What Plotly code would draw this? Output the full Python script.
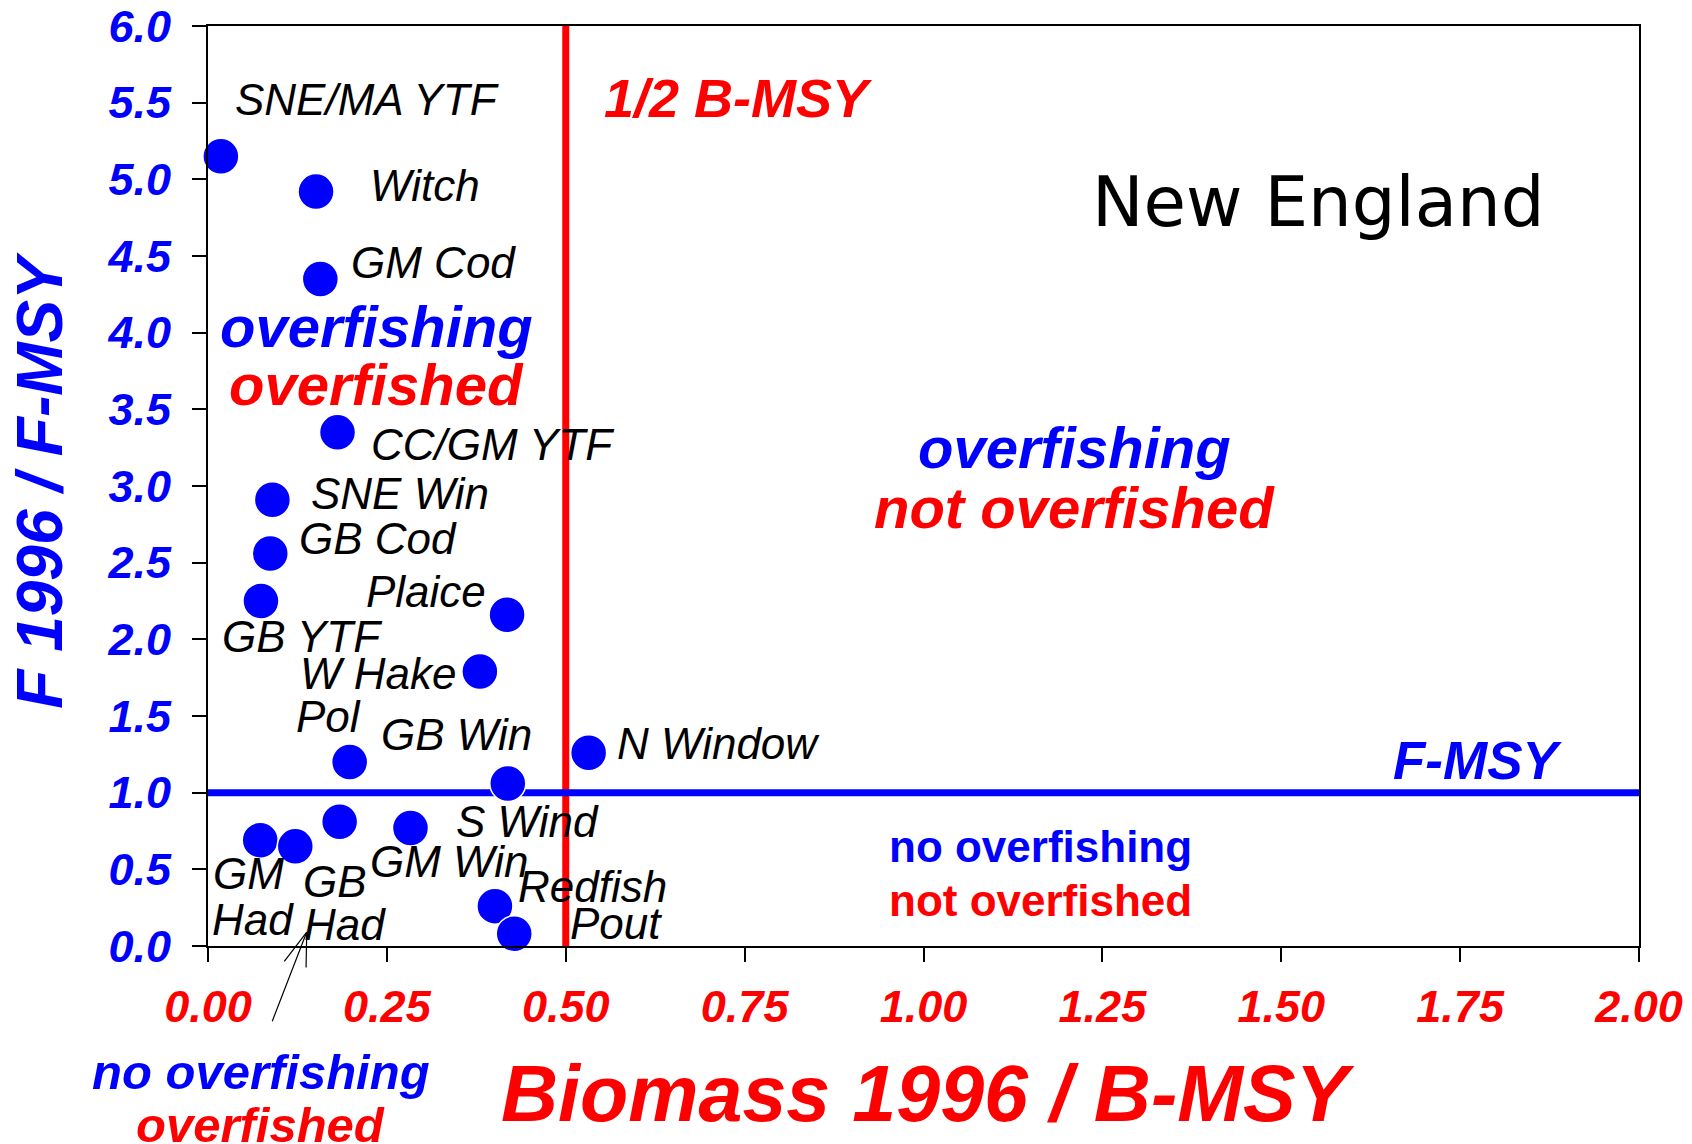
import plotly.graph_objects as go

# ---------------- data ----------------
stocks = ["SNE/MA YTF", "Witch", "GM Cod", "CC/GM YTF", "SNE Win", "GB Cod", "GB YTF",
          "Plaice", "W Hake", "Pol", "GB Win", "N Window", "GM Had", "GB Had",
          "GM Win", "S Wind", "Redfish", "Pout"]
biomass = [0.018, 0.151, 0.157, 0.181, 0.090, 0.087, 0.074,
           0.418, 0.380, 0.198, 0.419, 0.532, 0.073, 0.122,
           0.184, 0.283, 0.401, 0.428]
fmort = [5.15, 4.92, 4.35, 3.35, 2.91, 2.56, 2.25,
         2.16, 1.79, 1.20, 1.06, 1.26, 0.69, 0.65,
         0.81, 0.77, 0.26, 0.08]

x_ticks = [0.0, 0.25, 0.5, 0.75, 1.0, 1.25, 1.5, 1.75, 2.0]
y_ticks = [0.0, 0.5, 1.0, 1.5, 2.0, 2.5, 3.0, 3.5, 4.0, 4.5, 5.0, 5.5, 6.0]
b_msy_half = 0.5
f_msy = 1.0

# label placement (text centres, data units) - layout only
label_pos = {
    "SNE/MA YTF": (0.222, 5.52),
    "Witch": (0.303, 4.96),
    "GM Cod": (0.315, 4.46),
    "CC/GM YTF": (0.398, 3.27),
    "SNE Win": (0.268, 2.95),
    "GB Cod": (0.238, 2.66),
    "GB YTF": (0.131, 2.02),
    "Plaice": (0.305, 2.31),
    "W Hake": (0.238, 1.78),
    "Pol": (0.169, 1.50),
    "GB Win": (0.348, 1.38),
    "N Window": (0.713, 1.32),
    "S Wind": (0.446, 0.81),
    "GM Win": (0.337, 0.55),
    "Redfish": (0.538, 0.39),
    "Pout": (0.570, 0.15),
}
split_labels = {
    "GM Had": [("GM", 0.056, 0.475), ("Had", 0.063, 0.17)],
    "GB Had": [("GB", 0.178, 0.42), ("Had", 0.191, 0.137)],
}

FONT = "Liberation Sans, Arial, sans-serif"
WIDE = "DejaVu Sans, sans-serif"
BLUE = "#0000FF"
RED = "#FF0000"

XR = (x_ticks[0], x_ticks[-1])
YR = (y_ticks[0], y_ticks[-1])

fig = go.Figure()

# reference lines
fig.add_trace(go.Scatter(x=[b_msy_half, b_msy_half], y=[YR[0], YR[1]], mode="lines",
                         line=dict(color=RED, width=7), hoverinfo="skip", cliponaxis=False))
fig.add_trace(go.Scatter(x=[XR[0], XR[1]], y=[f_msy, f_msy], mode="lines",
                         line=dict(color=BLUE, width=7), hoverinfo="skip", cliponaxis=False))

# stocks
fig.add_trace(go.Scatter(x=biomass, y=fmort, mode="markers", text=stocks,
                         marker=dict(color=BLUE, size=36, line=dict(color="white", width=1.5)),
                         cliponaxis=False))

ann = []
def txt(s, x, y, size, color="black", bold=False, italic=True, family=FONT, angle=0):
    # x, y in data units; placed via paper fractions so text outside the axes still shows
    ann.append(dict(text=s, x=(x - XR[0]) / (XR[1] - XR[0]), y=(y - YR[0]) / (YR[1] - YR[0]),
                    xref="paper", yref="paper", showarrow=False, textangle=angle,
                    xanchor="center", yanchor="middle",
                    font=dict(family=family, size=size, color=color,
                              weight="bold" if bold else "normal",
                              style="italic" if italic else "normal")))

for name, (lx, ly) in label_pos.items():
    txt(name, lx, ly, 44)
for name, parts in split_labels.items():
    for s, lx, ly in parts:
        txt(s, lx, ly, 44)

# region texts
txt("overfishing", 0.235, 4.04, 58, BLUE, bold=True)
txt("overfished", 0.235, 3.66, 58, RED, bold=True)
txt("overfishing", 1.211, 3.25, 58, BLUE, bold=True)
txt("not overfished", 1.211, 2.86, 58, RED, bold=True)
txt("no overfishing", 1.164, 0.65, 44, BLUE, bold=True, italic=False)
txt("not overfished", 1.164, 0.30, 44, RED, bold=True, italic=False)
txt("no overfishing", 0.074, -0.82, 49, BLUE, bold=True)
txt("overfished", 0.074, -1.17, 49, RED, bold=True)
txt("F-MSY", 1.775, 1.21, 53, BLUE, bold=True)
txt("1/2 B-MSY", 0.741, 5.53, 54, RED, bold=True)
txt("New England", 1.552, 4.85, 69, "black", italic=False, family=WIDE)

# axis titles
txt("Biomass 1996 / B-MSY", 1.006, -0.96, 79, RED, bold=True)
txt("F 1996 / F-MSY", -0.235, 3.04, 64, BLUE, bold=True, angle=-90)

# leader arrow to GM/GB Had
tip = (0.138, 0.091)
for tail in [(0.089, -0.50), (0.105, -0.11), (0.137, -0.15)]:
    ann.append(dict(text="", x=tip[0], y=tip[1], xref="x", yref="y",
                    ax=tail[0], ay=tail[1], axref="x", ayref="y",
                    showarrow=True, arrowhead=0, arrowwidth=1.2, arrowcolor="black",
                    standoff=0, startstandoff=0))

# page body has an 8px margin, so the figure is 8px smaller to fit the window
fig.update_layout(
    width=1684, height=1136,
    margin=dict(l=200, r=53, t=18, b=198, autoexpand=False),
    plot_bgcolor="white", paper_bgcolor="white",
    showlegend=False,
    annotations=ann,
    xaxis=dict(range=list(XR), tickvals=x_ticks, tickformat=".2f", automargin=False,
               showline=True, linecolor="black", linewidth=2, mirror=True,
               ticks="outside", ticklen=14, tickwidth=2, tickcolor="black",
               showgrid=False, zeroline=False, ticklabelstandoff=6,
               ticklabeloverflow="allow",
               tickfont=dict(family=FONT, size=45, color=RED, weight="bold", style="italic")),
    yaxis=dict(range=list(YR), tickvals=y_ticks, tickformat=".1f", automargin=False,
               showline=True, linecolor="black", linewidth=2, mirror=True,
               ticks="outside", ticklen=14, tickwidth=2, tickcolor="black",
               showgrid=False, zeroline=False, ticklabelstandoff=12,
               ticklabeloverflow="allow",
               tickfont=dict(family=FONT, size=45, color=BLUE, weight="bold", style="italic")),
)

fig.write_html("out.html")
